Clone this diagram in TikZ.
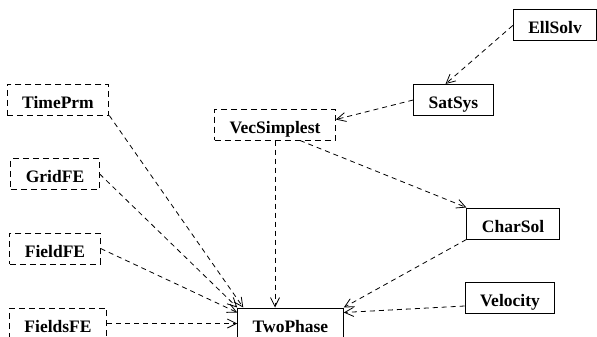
\documentclass[tikz,border=0pt]{standalone}
\usepackage{fontspec}
\setmainfont{Liberation Serif}
\usetikzlibrary{arrows.meta}

\begin{document}
\begin{tikzpicture}[x=1pt, y=-1pt,
    cls/.style = {draw, rectangle, line width=1pt, font=\fontsize{17.5}{20}\selectfont\bfseries,
                  inner xsep=15pt, inner ysep=0pt, minimum height=31pt, text height=17pt, text depth=0pt},
    ext/.style = {cls, dash pattern=on 6pt off 4pt},
    dep/.style = {dash pattern=on 5pt off 4pt, line width=0.8pt, -{Straight Barb[length=9pt,width=9pt]}}]
    \clip (0,0) rectangle (597,337);
    \node[cls] (EllSolv) at (555,25.5) {EllSolv};
    \node[cls] (SatSys) at (453.5,100) {SatSys};
    \node[ext] (VecSimplest) at (275,124.5) {VecSimplest};
    \node[cls] (CharSol) at (513,223.5) {CharSol};
    \node[cls] (Velocity) at (510,298) {Velocity};
    \node[cls] (TwoPhase) at (290.5,323.5) {TwoPhase};
    \node[ext] (TimePrm) at (58,99.5) {TimePrm};
    \node[ext] (GridFE) at (55,174) {GridFE};
    \node[ext] (FieldFE) at (55,248.5) {FieldFE};
    \node[ext] (FieldsFE) at (58,323.5) {FieldsFE};

    \draw[dep] (EllSolv.west) -- ([xshift=-8pt]SatSys.north);
    \draw[dep] (SatSys.west) -- ([yshift=5pt]VecSimplest.east);
    \draw[dep] ([xshift=25pt]VecSimplest.south) -- (CharSol.north west);
    \draw[dep] (VecSimplest.south) -- (VecSimplest.south |- TwoPhase.north);
    \draw[dep] (CharSol.south west) -- (TwoPhase.north east);
    \draw[dep] ([yshift=-8pt]Velocity.west) -- ([yshift=-5pt]TwoPhase.north east);
    % left column
    \draw[dep] (TimePrm.south east) -- ([xshift=6pt]TwoPhase.north west);
    \draw[dep] (GridFE.east) -- (TwoPhase.north west);
    \draw[dep] (FieldFE.east) -- ([yshift=-5pt]TwoPhase.north west);
    \draw[dep] (FieldsFE.east) -- (FieldsFE.east -| TwoPhase.west);
\end{tikzpicture}
\end{document}
